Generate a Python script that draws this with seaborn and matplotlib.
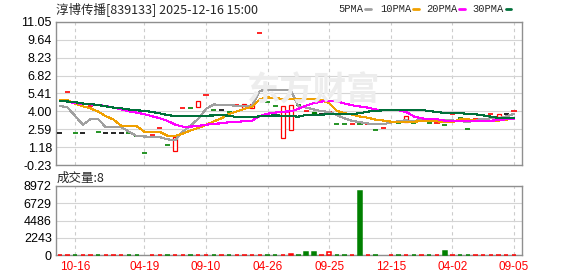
import numpy as np
import matplotlib
matplotlib.use("Agg")
import matplotlib.pyplot as plt
from matplotlib.lines import Line2D
import seaborn as sns

# ---------------- data ----------------
title = "淳博传播[839133] 2025-12-16 15:00"
xtick_pos = [2, 11, 19, 27, 35, 43, 51, 59]
xtick_labels = ["10-16", "04-19", "09-10", "04-26", "09-25", "12-15", "04-02", "09-05"]
price_ticks = [11.05, 9.64, 8.23, 6.82, 5.41, 4.00, 2.59, 1.18, -0.23]
vol_ticks = [0, 2243, 4486, 6729, 8972]

open_ = [2.30, 5.51, 2.30, 2.30, 4.43, 2.35, 2.30, 2.30, 2.30, 2.33,
         2.03, 0.72, 2.14, 2.67, 1.33, 0.86, 4.24, 4.24, 4.32, 5.27,
         4.09, 4.09, 3.93, 4.48, 4.25, 4.25, 10.16, 4.72, 4.43, 1.88,
         2.50, 4.48, 4.03, 3.93, 3.77, 3.93, 3.01, 3.01, 3.01, 3.01,
         3.00, 2.51, 2.69, 3.15, 3.09, 3.19, 3.06, 3.30, 3.06, 3.06,
         2.90, 3.77, 3.50, 2.59, 3.43, 3.43, 3.77, 3.58, 3.77, 4.01]
close_ = [2.30, 5.51, 2.30, 2.30, 4.43, 2.35, 2.30, 2.30, 2.30, 2.33,
          2.03, 0.72, 2.14, 2.67, 1.33, 1.96, 4.24, 4.24, 4.80, 5.27,
          4.09, 4.09, 3.93, 4.48, 4.62, 4.62, 10.16, 4.72, 4.43, 4.43,
          4.50, 4.48, 4.03, 3.82, 3.77, 3.93, 3.01, 3.01, 3.01, 3.01,
          3.00, 2.51, 2.69, 3.15, 3.09, 3.64, 3.06, 3.30, 3.06, 3.06,
          2.90, 3.77, 3.50, 2.59, 3.43, 3.43, 3.77, 3.79, 3.77, 4.01]
candle_color = ["k", "r", "g", "k", "r", "g", "k", "k", "k", "g",
                "g", "g", "r", "r", "g", "r", "r", "g", "r", "r",
                "g", "k", "g", "r", "r", "r", "r", "g", "g", "r",
                "r", "g", "r", "g", "k", "r", "g", "g", "r", "g",
                "r", "g", "r", "r", "g", "r", "g", "r", "g", "r",
                "g", "r", "g", "g", "r", "k", "r", "r", "k", "r"]

volume = [60, 45, 30, 50, 40, 35, 55, 40, 50, 30,
          45, 0, 40, 35, 50, 60, 45, 30, 55, 60,
          40, 35, 30, 45, 50, 55, 60, 40, 35, 60,
          70, 40, 400, 400, 50, 330, 40, 35, 45, 8320,
          40, 35, 0, 40, 35, 45, 40, 50, 35, 45,
          560, 40, 35, 30, 45, 40, 35, 50, 30, 8]
vol_color = ["r", "r", "g", "r", "r", "g", "r", "r", "r", "g",
             "g", "g", "r", "r", "g", "r", "r", "g", "r", "r",
             "g", "r", "g", "r", "r", "r", "r", "g", "g", "r",
             "r", "g", "g", "g", "r", "r", "g", "g", "r", "g",
             "r", "g", "r", "r", "g", "r", "g", "r", "g", "r",
             "g", "r", "g", "g", "r", "r", "r", "r", "r", "r"]

ma5 = [4.43, 4.32, 3.65, 2.95, 3.38, 3.38, 2.75, 2.75, 2.75, 2.40,
       2.05, 2.02, 2.00, 1.96, 1.80, 1.72, 2.40, 2.90, 3.40, 4.20,
       4.55, 4.50, 4.48, 4.45, 4.42, 4.45, 5.63, 5.69, 5.69, 5.69,
       5.69, 4.40, 4.30, 4.15, 4.02, 3.95, 3.70, 3.45, 3.25, 3.15,
       3.05, 2.98, 2.98, 3.12, 3.22, 3.30, 3.19, 3.45, 3.32, 3.32,
       3.28, 3.28, 3.25, 3.14, 3.32, 3.40, 3.45, 3.45, 3.60, 3.80]
ma10 = [4.90, 4.88, 4.62, 4.40, 4.24, 3.98, 3.62, 3.35, 2.85, 2.85,
        2.82, 2.40, 2.40, 2.38, 2.08, 2.06, 2.25, 2.50, 2.70, 2.93,
        3.20, 3.45, 3.80, 4.00, 4.20, 4.37, 4.95, 5.10, 5.05, 4.98,
        5.00, 5.00, 5.00, 4.98, 4.90, 4.65, 4.05, 3.85, 3.75, 3.60,
        3.50, 3.35, 3.28, 3.19, 3.19, 3.14, 3.19, 3.22, 3.22, 3.22,
        3.14, 3.14, 3.38, 3.38, 3.27, 3.27, 3.27, 3.27, 3.35, 3.45]
ma20 = [4.82, 4.78, 4.65, 4.60, 4.55, 4.50, 4.43, 4.30, 4.15, 4.00,
        3.90, 3.78, 3.62, 3.45, 3.25, 2.95, 2.80, 2.80, 2.85, 2.95,
        3.02, 3.06, 3.14, 3.18, 3.22, 3.27, 3.64, 3.82, 3.90, 3.98,
        4.00, 4.20, 4.45, 4.65, 4.78, 4.80, 4.78, 4.62, 4.48, 4.38,
        4.30, 4.15, 4.11, 4.11, 4.09, 3.95, 3.60, 3.45, 3.38, 3.38,
        3.27, 3.27, 3.27, 3.27, 3.27, 3.27, 3.27, 3.30, 3.38, 3.38]
ma30 = [4.82, 4.78, 4.72, 4.62, 4.57, 4.50, 4.40, 4.30, 4.24, 4.15,
        4.08, 4.05, 3.95, 3.85, 3.70, 3.64, 3.64, 3.64, 3.64, 3.66,
        3.68, 3.70, 3.66, 3.55, 3.53, 3.53, 3.62, 3.66, 3.68, 3.66,
        3.64, 3.58, 3.72, 3.72, 3.74, 3.78, 3.79, 3.79, 3.80, 3.85,
        3.98, 4.05, 4.08, 4.10, 4.11, 4.11, 4.11, 4.11, 4.03, 3.95,
        3.87, 3.87, 3.87, 3.80, 3.77, 3.69, 3.58, 3.48, 3.45, 3.50]

ma_names = ["5PMA", "10PMA", "20PMA", "30PMA"]
ma_colors = ["#a0a0a0", "#f0a000", "#ff00ff", "#00703a"]

# ---------------- style ----------------
sns.set_theme(style="white")
plt.rcParams["font.family"] = ["Liberation Sans", "Noto Sans CJK SC", "DejaVu Sans"]
cmap = {"r": "#ff0000", "g": "#008000", "k": "#000000"}
W, H = 578, 276

fig = plt.figure(figsize=(W / 100, H / 100), dpi=100)
fig.patch.set_facecolor("white")
ax = fig.add_axes([56 / W, (H - 165) / H, 466 / W, 143 / H])
axv = fig.add_axes([56 / W, (H - 255) / H, 466 / W, 69 / H])

idx = np.arange(len(close_))
for a in (ax, axv):
    a.set_facecolor("white")
    for s in a.spines.values():
        s.set_color("#8f8f8f")
        s.set_linewidth(1.0)
        s.set_zorder(1.5)
    a.set_xlim(-0.48, 60.04)
    a.set_xticks(xtick_pos)
    a.xaxis.grid(True, color="#cccccc", linestyle=(0, (3, 3)), linewidth=0.8)
    a.yaxis.grid(True, color="#d4d4d4", linestyle="-", linewidth=0.8)
    a.set_axisbelow(True)
    a.tick_params(axis="both", length=0, labelsize=9, colors="#000000")

# watermark
fig.text(246 / W, 1 - 91 / H, "东方财富", fontsize=24, fontweight="bold",
         color="#ededed", family=["Noto Sans CJK SC"], va="center", ha="left", zorder=0)
ax.patch.set_alpha(0.0)

# price panel
ax.set_ylim(price_ticks[-1], price_ticks[0])
ax.set_yticks(price_ticks)
ax.set_yticklabels([f"{v:.2f}" for v in price_ticks])
ax.tick_params(axis="y", pad=3)
ax.tick_params(axis="x", labelbottom=False)

for i in idx:
    o, c = open_[i], close_[i]
    col = cmap[candle_color[i]]
    if abs(c - o) < 1e-9:
        ax.hlines(c, i - 0.33, i + 0.33, color=col, linewidth=1.2, zorder=2)
    else:
        up = c > o
        ax.bar(i, abs(c - o), bottom=min(o, c), width=0.52,
               facecolor="white" if up else col, edgecolor=col,
               linewidth=0.9, zorder=2)

for vals, colr in zip([ma5, ma10, ma20, ma30], ma_colors):
    sns.lineplot(x=idx, y=vals, ax=ax, color=colr, linewidth=0.8,
                 estimator=None, legend=False, zorder=3, antialiased=False)
ax.set_xlabel("")
ax.set_ylabel("")
ax.set_xlim(-0.48, 60.04)
ax.set_ylim(price_ticks[-1], price_ticks[0])

# volume panel
vol = np.array(volume)
for i in idx:
    if vol[i] <= 0:
        continue
    col = cmap[vol_color[i]]
    axv.bar(i, vol[i], width=0.55, facecolor="white" if vol_color[i] == "r" else col,
            edgecolor=col, linewidth=1.1, zorder=6, clip_on=False)
axv.set_ylim(vol_ticks[0], vol_ticks[-1])
axv.set_yticks(vol_ticks)
axv.set_yticklabels([str(v) for v in vol_ticks])
axv.tick_params(axis="y", pad=3)
axv.set_xticklabels(xtick_labels, color="#ff0000", fontsize=8.5)
axv.tick_params(axis="x", pad=4)

# texts
fig.text(56 / W, 1 - 9 / H, title, fontsize=9, va="center", ha="left",
         family=["Noto Sans CJK SC", "DejaVu Sans"])
fig.text(57 / W, 1 - 178 / H, "成交量:" + str(volume[-1]), fontsize=9, va="center",
         ha="left", family=["Noto Sans CJK SC", "DejaVu Sans"])

legend_x = [338, 380, 426, 472]
marker_x = [(365, 371), (413, 419), (459, 465), (506, 511)]
for name, colr, lx, (m0, m1) in zip(ma_names, ma_colors, legend_x, marker_x):
    fig.text(lx / W, 1 - 9 / H, name, fontsize=7.5, va="center", ha="left",
             family=["Liberation Mono"])
    fig.add_artist(Line2D([m0 / W, m1 / W], [1 - 9 / H, 1 - 9 / H],
                          color=colr, linewidth=2.0, transform=fig.transFigure))

fig.savefig("out.png", dpi=100, facecolor="white")
